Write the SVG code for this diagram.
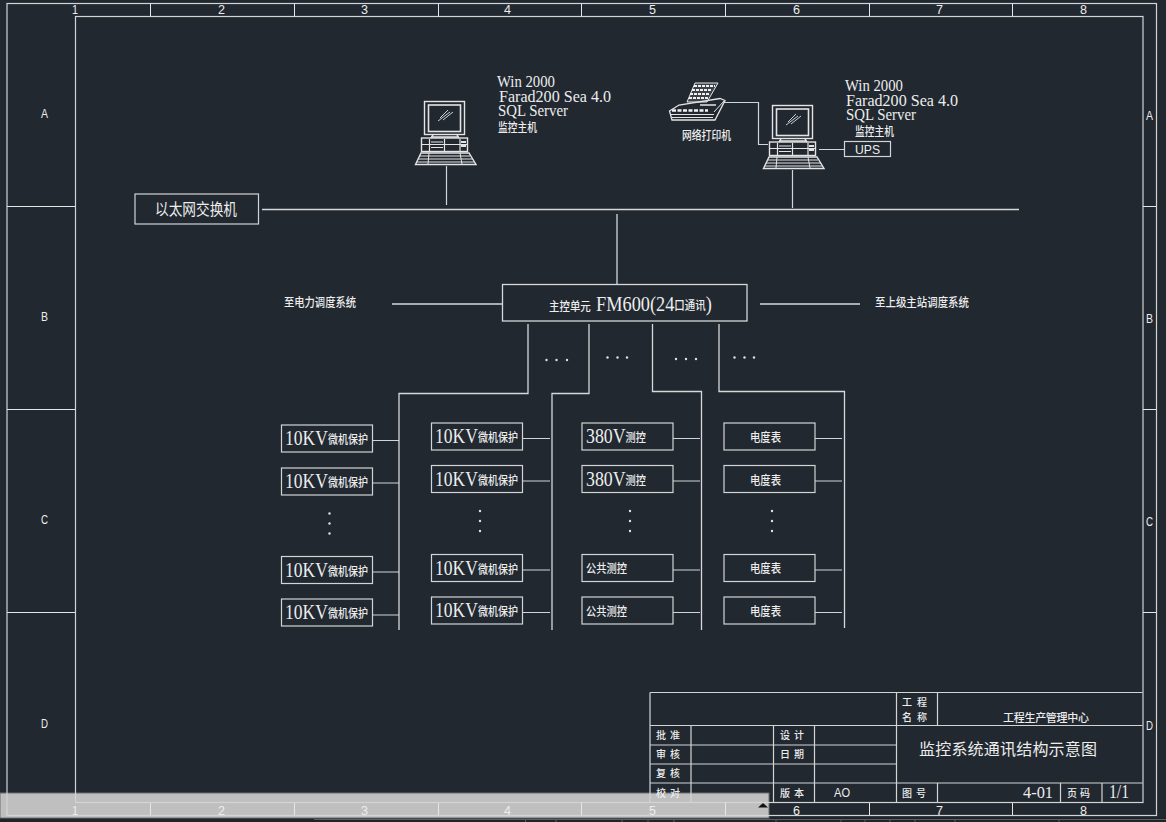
<svg xmlns="http://www.w3.org/2000/svg" width="1166" height="822" viewBox="0 0 1166 822">
<style>
.l{fill:none;stroke:#d4d4d4;stroke-width:1.2}
.t{fill:none;stroke:#e6e6e6;stroke-width:1}
.b{fill:none;stroke:#d8d8d8;stroke-width:1.3}
text{fill:#ededed}
.s{font-family:"Liberation Serif",serif;font-size:16px}
.n{font-family:"Liberation Sans",sans-serif;font-size:12px}
.c{font-family:"Noto Sans CJK SC",sans-serif;font-size:12px;font-weight:500}
.k{font-family:"Liberation Serif",serif;font-size:21px}
.m{font-size:10px}
.d{fill:#e0e0e0}
</style>
<defs>
<g id="pc" fill="none" stroke="#e4e4e4" stroke-width="1">
<rect x="424.500" y="101.500" width="40" height="33" stroke-width="1.400"/>
<rect x="428.500" y="105" width="32" height="26.500" stroke-width="1.600"/>
<path d="M440 118L448 110M443 120L453 112M438 121L450 112" stroke="#cfcfcf"/>
<path d="M433 135L431 138M457 135L459 138M431 137H459" stroke-width="1.400"/>
<rect x="421.500" y="138" width="46" height="13.500" stroke-width="1.400"/>
<path d="M421.500 144.500H467M429.500 139V151M444.500 139V151M460 139V151M431 142H443M431 147.500H443" stroke-width="1.200"/>
<path d="M461 142H466M461 146H466" stroke-width="1.800"/>
<path d="M421 153H469L476 164.500H415.500Z" stroke-width="1.400"/>
<path d="M420 156H470M418 159H473M417 162H474M429 153L428 164M460 153L462 164"/>
</g>
</defs>
<rect id="background" width="1166" height="822" fill="#212830"/>
<g id="bottom-bar">
<rect x="0" y="817.500" width="1166" height="4.500" fill="#1f2429"/>
<path d="M314 819.500H1166M525.500 819.500V822M556 819.500V822M622 819.500V822M648 819.500V822M674 819.500V822M776 819.500V822M841 819.500V822M865 819.500V822M890 819.500V822M915 819.500V822M955 819.500V822M1059 819.500V822" fill="none" stroke="#5a5f64" stroke-width="1"/>
<rect x="0" y="793" width="769" height="25" fill="#bfbfbf" stroke="#6a6e72" stroke-width="1"/>
<path d="M758 807.500H768L763 803Z" fill="#111"/>
</g>
<g id="frame">
<rect class="l" x="7" y="3.500" width="1149.500" height="812"/>
<rect class="l" x="75.500" y="16.500" width="1067.500" height="786"/>
<path class="t" d="M150.500 3.500V16M294.500 3.500V16M438.500 3.500V16M581.500 3.500V16M725.500 3.500V16M869.500 3.500V16M1012.500 3.500V16M150.500 803V815M294.500 803V815M438.500 803V815M581.500 803V815M725.500 803V815M869.500 803V815M1012.500 803V815M7 206.500H75M7 409.500H75M7 612.500H75M1143 206.500H1156M1143 409.500H1156M1143 612.500H1156"/>
<g class="n">
<text x="72" y="13.500" textLength="6" lengthAdjust="spacingAndGlyphs">1</text><text x="218" y="13.500" textLength="7" lengthAdjust="spacingAndGlyphs">2</text><text x="361" y="13.500" textLength="7" lengthAdjust="spacingAndGlyphs">3</text><text x="504" y="13.500" textLength="7" lengthAdjust="spacingAndGlyphs">4</text><text x="649" y="13.500" textLength="7" lengthAdjust="spacingAndGlyphs">5</text><text x="793" y="13.500" textLength="7" lengthAdjust="spacingAndGlyphs">6</text><text x="936" y="13.500" textLength="7" lengthAdjust="spacingAndGlyphs">7</text><text x="1080" y="13.500" textLength="7" lengthAdjust="spacingAndGlyphs">8</text>
<text x="72" y="815" textLength="6" lengthAdjust="spacingAndGlyphs">1</text><text x="218" y="815" textLength="7" lengthAdjust="spacingAndGlyphs">2</text><text x="361" y="815" textLength="7" lengthAdjust="spacingAndGlyphs">3</text><text x="504" y="815" textLength="7" lengthAdjust="spacingAndGlyphs">4</text><text x="649" y="815" textLength="7" lengthAdjust="spacingAndGlyphs">5</text><text x="793" y="815" textLength="7" lengthAdjust="spacingAndGlyphs">6</text><text x="936" y="815" textLength="7" lengthAdjust="spacingAndGlyphs">7</text><text x="1080" y="815" textLength="7" lengthAdjust="spacingAndGlyphs">8</text>
<text x="41" y="118" textLength="7" lengthAdjust="spacingAndGlyphs">A</text><text x="41" y="321" textLength="7" lengthAdjust="spacingAndGlyphs">B</text><text x="41" y="524" textLength="7" lengthAdjust="spacingAndGlyphs">C</text><text x="41" y="728" textLength="7" lengthAdjust="spacingAndGlyphs">D</text>
<text x="1146" y="120" textLength="7" lengthAdjust="spacingAndGlyphs">A</text><text x="1146" y="323" textLength="7" lengthAdjust="spacingAndGlyphs">B</text><text x="1146" y="526" textLength="7" lengthAdjust="spacingAndGlyphs">C</text><text x="1146" y="730" textLength="7" lengthAdjust="spacingAndGlyphs">D</text>
</g>
</g>
<g id="connectors">
<path class="b" d="M262 209.500H1019M617 214V284M392 304H502M760 304H860"/>
<path class="l" d="M446.500 166V205M792.500 170V208M724 102.500H758.500V144.500H768M819 149.500H844"/>
<path class="b" d="M528 324V393.500H399V630"/>
<path class="b" d="M589 324V393.500H552V630"/>
<path class="b" d="M652.500 324V391.500H701.500V630"/>
<path class="b" d="M719 324V391.500H844.500V628"/>
<path class="l" d="M373 440.500H399M373 483H399M373 572H399M373 615H399M523 438.500H550M523 481H550M523 570H550M523 612.500H550M673 438.500H700M673 481H700M673 570H700M673 612.500H700M815 438.500H842M815 481H842M815 570H842M815 612.500H842"/>
</g>
<g id="dots" class="d">
<circle cx="546.500" cy="360" r="1.200"/><circle cx="556.500" cy="360" r="1.200"/><circle cx="567" cy="360" r="1.200"/>
<circle cx="607.500" cy="357.500" r="1.200"/><circle cx="617.500" cy="357.500" r="1.200"/><circle cx="627" cy="357.500" r="1.200"/>
<circle cx="676" cy="359" r="1.200"/><circle cx="686" cy="359" r="1.200"/><circle cx="696" cy="359" r="1.200"/>
<circle cx="734.500" cy="357.500" r="1.200"/><circle cx="744.500" cy="357.500" r="1.200"/><circle cx="754" cy="357.500" r="1.200"/>
<circle cx="329.500" cy="513.500" r="1.200"/><circle cx="329.500" cy="523.500" r="1.200"/><circle cx="329.500" cy="533.500" r="1.200"/>
<circle cx="480" cy="511" r="1.200"/><circle cx="480" cy="521" r="1.200"/><circle cx="480" cy="531" r="1.200"/>
<circle cx="630" cy="511" r="1.200"/><circle cx="630" cy="521" r="1.200"/><circle cx="630" cy="531" r="1.200"/>
<circle cx="772" cy="511" r="1.200"/><circle cx="772" cy="521" r="1.200"/><circle cx="772" cy="531" r="1.200"/>
</g>
<g id="host1">
<use href="#pc"/>
<text class="s" x="497" y="87" textLength="58" lengthAdjust="spacingAndGlyphs">Win 2000</text>
<text class="s" x="499" y="101.500" textLength="112" lengthAdjust="spacingAndGlyphs">Farad200 Sea 4.0</text>
<text class="s" x="498" y="116" textLength="70" lengthAdjust="spacingAndGlyphs">SQL Server</text>
<text class="c" x="498" y="132" textLength="39" lengthAdjust="spacingAndGlyphs">监控主机</text>
</g>
<g id="host2">
<use href="#pc" x="348" y="4"/>
<text class="s" x="845" y="91" textLength="58" lengthAdjust="spacingAndGlyphs">Win 2000</text>
<text class="s" x="846" y="105.500" textLength="112" lengthAdjust="spacingAndGlyphs">Farad200 Sea 4.0</text>
<text class="s" x="846" y="120" textLength="70" lengthAdjust="spacingAndGlyphs">SQL Server</text>
<text class="c" x="855" y="136" textLength="39" lengthAdjust="spacingAndGlyphs">监控主机</text>
</g>
<g id="printer">
<g fill="none" stroke="#e4e4e4" stroke-width="1">
<path d="M687 102L695 83H718L707 102Z" fill="#3d4248"/>
<path d="M692 90H712M690 94H710M694 86H715M689 98H708" stroke="#f2f2f2" stroke-width="2" stroke-dasharray="3 1"/>
<path d="M669.500 111L679 105L720 98.500L725 100.500L715 120H672Z" stroke-width="1.300"/>
<path d="M670 114.500H714M672 117.500H713M714 112L724 101" stroke-width="1"/>
<path d="M672 110.500H708" stroke="#f2f2f2" stroke-width="2.500" stroke-dasharray="4 1.500"/>
<path d="M700 105H716" stroke-width="1.500"/>
</g>
<text class="c" x="682" y="140" textLength="49" lengthAdjust="spacingAndGlyphs">网络打印机</text>
</g>
<g id="ups">
<rect class="l" x="844.500" y="141.500" width="46" height="15"/>
<text class="n" x="855" y="154" style="font-size:13px" textLength="25" lengthAdjust="spacingAndGlyphs">UPS</text>
</g>
<g id="switch">
<rect class="l" x="135" y="194" width="123.500" height="30"/>
<text class="c" x="155" y="215" style="font-size:16px;font-weight:400" textLength="82" lengthAdjust="spacingAndGlyphs">以太网交换机</text>
</g>
<g id="label-left"><text class="c" x="284" y="307" textLength="72" lengthAdjust="spacingAndGlyphs">至电力调度系统</text></g>
<g id="label-right"><text class="c" x="875" y="307" textLength="94" lengthAdjust="spacingAndGlyphs">至上级主站调度系统</text></g>
<g id="main-unit">
<rect class="b" x="502.500" y="284.500" width="244.500" height="36.500"/>
<text class="c" transform="translate(549 311) scale(.872 1)">主控单元<tspan class="k" dx="6">FM600(24</tspan><tspan dy="-1">口通讯</tspan><tspan class="k" dy="1">)</tspan></text>
</g>
<g id="col1">
<g id="p11"><rect class="l" x="281.500" y="425" width="91" height="27"/><text class="c" transform="translate(285 445) scale(.836 1)"><tspan class="k">10KV</tspan><tspan dy="-1">微机保护</tspan></text></g>
<g id="p12"><rect class="l" x="281.500" y="468" width="91" height="27"/><text class="c" transform="translate(285 488) scale(.836 1)"><tspan class="k">10KV</tspan><tspan dy="-1">微机保护</tspan></text></g>
<g id="p13"><rect class="l" x="281.500" y="556.500" width="91" height="27"/><text class="c" transform="translate(285 576.500) scale(.836 1)"><tspan class="k">10KV</tspan><tspan dy="-1">微机保护</tspan></text></g>
<g id="p14"><rect class="l" x="281.500" y="599" width="91" height="27"/><text class="c" transform="translate(285 619) scale(.836 1)"><tspan class="k">10KV</tspan><tspan dy="-1">微机保护</tspan></text></g>
</g>
<g id="col2">
<g id="p21"><rect class="l" x="431.500" y="423" width="91" height="27"/><text class="c" transform="translate(435 443) scale(.836 1)"><tspan class="k">10KV</tspan><tspan dy="-1">微机保护</tspan></text></g>
<g id="p22"><rect class="l" x="431.500" y="465.500" width="91" height="27"/><text class="c" transform="translate(435 485.500) scale(.836 1)"><tspan class="k">10KV</tspan><tspan dy="-1">微机保护</tspan></text></g>
<g id="p23"><rect class="l" x="431.500" y="554.500" width="91" height="27"/><text class="c" transform="translate(435 574.500) scale(.836 1)"><tspan class="k">10KV</tspan><tspan dy="-1">微机保护</tspan></text></g>
<g id="p24"><rect class="l" x="431.500" y="597" width="91" height="27"/><text class="c" transform="translate(435 617) scale(.836 1)"><tspan class="k">10KV</tspan><tspan dy="-1">微机保护</tspan></text></g>
</g>
<g id="col3">
<g id="m31"><rect class="l" x="582" y="423" width="91" height="27"/><text class="c" transform="translate(586 443) scale(.849 1)"><tspan class="k">380V</tspan><tspan dy="-1">测控</tspan></text></g>
<g id="m32"><rect class="l" x="582" y="465.500" width="91" height="27"/><text class="c" transform="translate(586 485.500) scale(.849 1)"><tspan class="k">380V</tspan><tspan dy="-1">测控</tspan></text></g>
<g id="m33"><rect class="l" x="582" y="554.500" width="91" height="27"/><text class="c" x="586" y="573" textLength="41" lengthAdjust="spacingAndGlyphs">公共测控</text></g>
<g id="m34"><rect class="l" x="582" y="597" width="91" height="27"/><text class="c" x="586" y="615.500" textLength="41" lengthAdjust="spacingAndGlyphs">公共测控</text></g>
</g>
<g id="col4">
<g id="e41"><rect class="l" x="724" y="423" width="91" height="27"/><text class="c" x="750" y="442" textLength="31" lengthAdjust="spacingAndGlyphs">电度表</text></g>
<g id="e42"><rect class="l" x="724" y="465.500" width="91" height="27"/><text class="c" x="750" y="484.500" textLength="31" lengthAdjust="spacingAndGlyphs">电度表</text></g>
<g id="e43"><rect class="l" x="724" y="554.500" width="91" height="27"/><text class="c" x="750" y="573" textLength="31" lengthAdjust="spacingAndGlyphs">电度表</text></g>
<g id="e44"><rect class="l" x="724" y="597" width="91" height="27"/><text class="c" x="750" y="615.500" textLength="31" lengthAdjust="spacingAndGlyphs">电度表</text></g>
</g>
<g id="title-block">
<path class="l" d="M650 692.500H1142.500M650 725.500H1142.500M650 745H896.500M650 764H896.500M650 783H1142.500M650 692.500V802M691 725.500V802M773.500 725.500V802M814.500 725.500V802M896.500 692.500V802M937.500 692.500V725.500M937.500 783V802M1060.500 783V802M1102 783V802"/>
<text class="c m" x="902" y="706" textLength="25">工 程</text>
<text class="c m" x="902" y="721" textLength="25">名 称</text>
<text class="c m" x="656" y="739" textLength="24">批 准</text>
<text class="c m" x="656" y="758" textLength="24">审 核</text>
<text class="c m" x="656" y="777" textLength="24">复 核</text>
<text class="c m" x="656" y="797" textLength="24">校 对</text>
<text class="c m" x="780" y="739" textLength="24">设 计</text>
<text class="c m" x="780" y="758" textLength="24">日 期</text>
<text class="c m" x="780" y="797" textLength="24">版 本</text>
<text class="c m" x="902" y="797" textLength="24">图 号</text>
<text class="c m" x="1067" y="797" textLength="23">页 码</text>
<text class="c" x="1003" y="722" style="font-size:11px" textLength="86">工程生产管理中心</text>
<text class="c" x="919" y="755" style="font-size:16px;font-weight:400" textLength="178">监控系统通讯结构示意图</text>
<text class="n" x="834" y="797" textLength="16" lengthAdjust="spacingAndGlyphs">AO</text>
<text class="k" x="1023" y="798" style="font-size:17px" textLength="30" lengthAdjust="spacingAndGlyphs">4-01</text>
<text class="k" x="1109" y="798" style="font-size:18px" textLength="20" lengthAdjust="spacingAndGlyphs">1/1</text>
</g>
</svg>
